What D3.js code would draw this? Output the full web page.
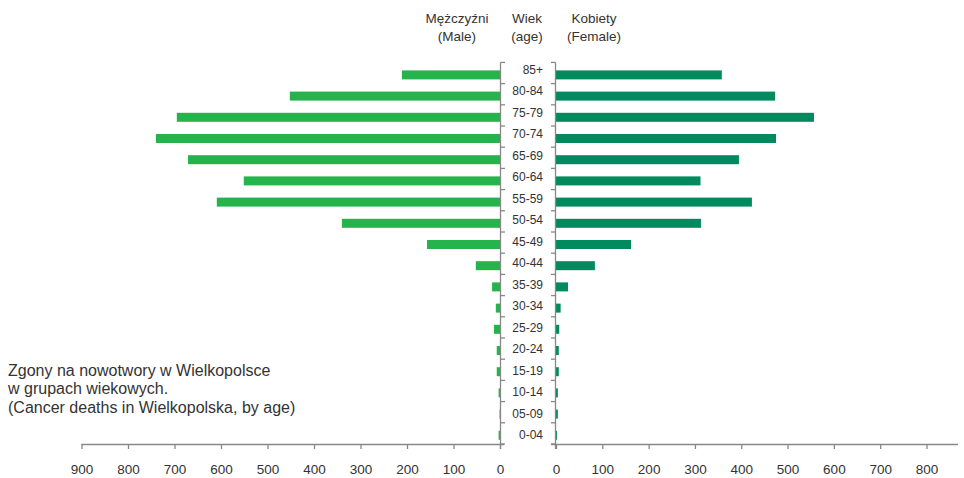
<!DOCTYPE html>
<html><head><meta charset="utf-8">
<script src="https://cdn.jsdelivr.net/npm/d3@7"></script>
<style>
body{margin:0;background:#fff;}
text{font-family:"Liberation Sans",Arial,sans-serif;fill:#333;}
</style></head>
<body>
<svg id="c" width="964" height="478"></svg>
<script>
const ageGroups = ["85+","80-84","75-79","70-74","65-69","60-64","55-59","50-54","45-49","40-44","35-39","30-34","25-29","20-24","15-19","10-14","05-09","0-04"];
const maleDeaths =   [211,452,695,740,671,551,609,340,157,52,17,9,13,7,7,3,1,3];
const femaleDeaths = [358,473,557,475,395,312,423,313,162,84,26,10,7,6,6,4,4,2];
const leftTicks = [0,100,200,300,400,500,600,700,800,900];
const rightTicks = [0,100,200,300,400,500,600,700,800];
const headers = [
  {lines:["Mężczyźni","(Male)"], x:457},
  {lines:["Wiek","(age)"], x:527},
  {lines:["Kobiety","(Female)"], x:594}
];
const noteLines = ["Zgony na nowotwory w Wielkopolsce","w grupach wiekowych.","(Cancer deaths in Wielkopolska, by age)"];

const svg = d3.select("#c");
const axisColor = "#888";
const maleColor = "#25b34c";
const femaleColor = "#008a5d";

const y = d3.scaleBand().domain(ageGroups).range([62.4, 444]);
const yLab = d3.scalePoint().domain(ageGroups).range([69.5, 435]);
const xL = d3.scaleLinear().domain([0,900]).range([500, 81.5]);
const xR = d3.scaleLinear().domain([0,868]).range([556, 958]);
const barH = 9, barOff = 1.9;

// bars
svg.append("g").selectAll("rect").data(ageGroups).join("rect")
  .attr("x", (d,i)=>xL(maleDeaths[i]))
  .attr("width", (d,i)=>xL(0)-xL(maleDeaths[i]))
  .attr("y", d=>y(d)+y.bandwidth()/2-barH/2+barOff)
  .attr("height", barH)
  .attr("fill", maleColor);
svg.append("g").selectAll("rect").data(ageGroups).join("rect")
  .attr("x", xR(0))
  .attr("width", (d,i)=>xR(femaleDeaths[i])-xR(0))
  .attr("y", d=>y(d)+y.bandwidth()/2-barH/2+barOff)
  .attr("height", barH)
  .attr("fill", femaleColor);

// vertical category axes
const ticksY = ageGroups.map(d=>y(d)).concat([y.range()[1]]);
const gv = svg.append("g").attr("stroke", axisColor).attr("stroke-width",1.3);
gv.append("line").attr("x1",500.5).attr("x2",500.5).attr("y1",y.range()[0]).attr("y2",y.range()[1]+5);
gv.append("line").attr("x1",555.5).attr("x2",555.5).attr("y1",y.range()[0]).attr("y2",y.range()[1]+5);
gv.selectAll("line.tl").data(ticksY).join("line").attr("class","tl")
  .attr("x1",500.5).attr("x2",505).attr("y1",d=>d).attr("y2",d=>d);
gv.selectAll("line.tr").data(ticksY).join("line").attr("class","tr")
  .attr("x1",551).attr("x2",555.5).attr("y1",d=>d).attr("y2",d=>d);

// category labels
svg.append("g").selectAll("text").data(ageGroups).join("text")
  .attr("x",543).attr("y",d=>yLab(d))
  .attr("dy","0.36em").attr("text-anchor","end")
  .style("font-size","12px").text(d=>d);

// bottom axes
const axY = 444;
const gl = svg.append("g").attr("transform",`translate(0,${axY})`)
  .call(d3.axisBottom(xL).tickValues(leftTicks).tickSize(5).tickSizeOuter(0).tickFormat(d3.format("d")));
const gr = svg.append("g").attr("transform",`translate(0,${axY})`)
  .call(d3.axisBottom(xR).tickValues(rightTicks).tickSize(5).tickSizeOuter(0).tickFormat(d3.format("d")));
[gl,gr].forEach(g=>{
  g.select(".domain").remove();
  g.selectAll(".tick line").attr("stroke",axisColor).attr("stroke-width",1.3);
  g.selectAll(".tick text").attr("y",20).style("font-size","13.5px").style("font-family","'Liberation Sans',Arial,sans-serif").attr("fill","#333");
});
svg.append("line").attr("x1",xL(900)).attr("x2",504).attr("y1",axY+0.5).attr("y2",axY+0.5).attr("stroke",axisColor).attr("stroke-width",1.3);
svg.append("line").attr("x1",551).attr("x2",xR(868)).attr("y1",axY+0.5).attr("y2",axY+0.5).attr("stroke",axisColor).attr("stroke-width",1.3);

// headers
headers.forEach(h=>{
  h.lines.forEach((t,i)=>{
    svg.append("text").attr("x",h.x).attr("y",23+i*18).attr("text-anchor","middle")
      .style("font-size","13.5px").text(t);
  });
});

// note
noteLines.forEach((t,i)=>{
  svg.append("text").attr("x",8).attr("y",376+i*18.3).style("font-size","16px").text(t);
});
</script>
</body></html>
